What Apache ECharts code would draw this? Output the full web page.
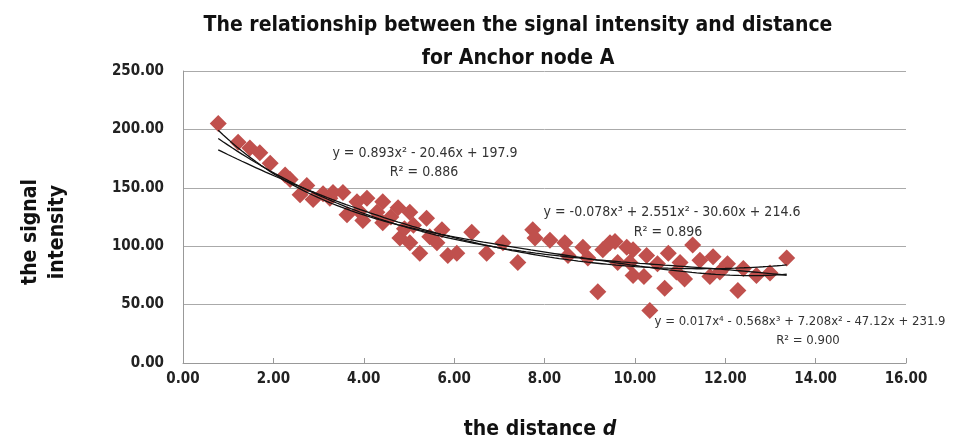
<!DOCTYPE html>
<html><head><meta charset="utf-8">
<script src="https://cdn.jsdelivr.net/npm/echarts@6/dist/echarts.min.js"></script>
<style>html,body{margin:0;padding:0;background:#fff}#c{width:970px;height:444px}</style>
</head><body><div id="c"></div>
<script>
// measured points (distance, signal intensity)
const distance = [0.78,1.22,1.48,1.70,1.93,2.26,2.37,2.59,2.74,2.88,3.10,3.25,3.32,3.54,3.63,3.85,3.90,3.98,4.07,4.29,4.42,4.42,4.60,4.76,4.80,4.90,5.02,5.02,5.10,5.24,5.39,5.46,5.62,5.73,5.86,6.06,6.39,6.72,7.08,7.41,7.74,7.79,8.12,8.45,8.52,8.85,8.96,9.18,9.29,9.45,9.56,9.62,9.82,9.89,9.96,9.96,10.20,10.26,10.33,10.50,10.66,10.74,10.92,11.00,11.10,11.28,11.44,11.66,11.73,11.88,12.05,12.28,12.40,12.69,12.99,13.36];
const intensity = [205,189,184,180,171,161,157,144,152,140,145,141,146,146,127,138,130,122,141,129,138,120,125,133,107,115,129,103,118,94,124,108,103,114,92,94,112,94,103,86,114,107,105,103,92,99,90,61,97,103,104,86,99,86,97,75,74,92,45,85,64,94,78,86,72,101,88,74,91,78,85,62,81,75,77,90];
// trendline coefficients, highest power first (as printed on chart)
const quadCoef = [0.893, -20.46, 197.9];
const cubicCoef = [-0.078, 2.551, -30.60, 214.6];
const quartCoef = [0.017, -0.568, 7.208, -47.12, 231.9];
const yTicks = ['0.00','50.00','100.00','150.00','200.00','250.00'];

function poly(c, x){ let v=0; for(const k of c){ v=v*x+k; } return v; }
function trend(c){
  const lo=Math.min(...distance), hi=Math.max(...distance), out=[];
  const n=120;
  for(let i=0;i<=n;i++){ const x=lo+(hi-lo)*i/n; out.push([x, poly(c,x)]); }
  return out;
}
const pts = distance.map((d,i)=>[d,intensity[i]]);
const FONT = '"Liberation Sans Narrow","DejaVu Sans Condensed","Open Sans",sans-serif';
const chart = echarts.init(document.getElementById('c'));
const lineStyle = {color:'#111', width:1.3};
chart.setOption({
  animation:false,
  backgroundColor:'#fff',
  grid:{left:183, right:64, top:71, bottom:81},
  xAxis:{type:'value', min:0, max:16, interval:2,
    axisLine:{show:true, lineStyle:{color:'#999'}},
    axisTick:{show:true, lineStyle:{color:'#999'}, length:5, inside:true},
    axisLabel:{formatter:v=>v.toFixed(2), color:'#222', fontFamily:FONT, fontSize:15, fontWeight:'bold', margin:9},
    splitLine:{show:false}},
  yAxis:{type:'value', min:0, max:250, interval:50,
    axisLine:{show:true, lineStyle:{color:'#999'}},
    axisTick:{show:false},
    axisLabel:{formatter:v=>yTicks[v/50], color:'#222', fontFamily:FONT, fontSize:15, fontWeight:'bold', margin:19},
    splitLine:{show:true, lineStyle:{color:'#aaa', width:1}}},
  series:[
    {type:'scatter', data:pts, symbol:'diamond', symbolSize:17, itemStyle:{color:'#C0504D', opacity:1}, z:2},
    {type:'line', data:trend(quadCoef), showSymbol:false, lineStyle:lineStyle, z:3},
    {type:'line', data:trend(cubicCoef), showSymbol:false, lineStyle:lineStyle, z:3},
    {type:'line', data:trend(quartCoef), showSymbol:false, lineStyle:lineStyle, z:3}
  ],
  graphic:[
    {type:'text', x:518, y:9, z:10,
      style:{text:'The relationship between the signal intensity and distance\nfor Anchor node A', textAlign:'center', fill:'#111', font:'bold 21px '+FONT, lineHeight:33}},
    {type:'text', x:44, y:232, rotation:Math.PI/2, z:10,
      style:{text:'the signal\nintensity', textAlign:'center', textVerticalAlign:'middle', fill:'#111', font:'bold 21px '+FONT, lineHeight:27}},
    {type:'text', x:540, y:430, z:10,
      style:{rich:{a:{font:'bold 21px '+FONT, fill:'#111'}, b:{font:'italic bold 21px '+FONT, fill:'#111'}}, text:'{a|the distance }{b|d}', textAlign:'center', textVerticalAlign:'middle'}},
    {type:'text', x:425, y:153, z:10, style:{text:'y = 0.893x² - 20.46x + 197.9', textAlign:'center', textVerticalAlign:'middle', fill:'#333', font:'14px '+FONT}},
    {type:'text', x:424, y:172, z:10, style:{text:'R² = 0.886', textAlign:'center', textVerticalAlign:'middle', fill:'#333', font:'14px '+FONT}},
    {type:'text', x:672, y:212, z:10, style:{text:'y = -0.078x³ + 2.551x² - 30.60x + 214.6', textAlign:'center', textVerticalAlign:'middle', fill:'#333', font:'14px '+FONT}},
    {type:'text', x:668, y:232, z:10, style:{text:'R² = 0.896', textAlign:'center', textVerticalAlign:'middle', fill:'#333', font:'14px '+FONT}},
    {type:'text', x:800, y:322, z:10, style:{text:'y = 0.017x⁴ - 0.568x³ + 7.208x² - 47.12x + 231.9', textAlign:'center', textVerticalAlign:'middle', fill:'#333', font:'13px '+FONT}},
    {type:'text', x:808, y:341, z:10, style:{text:'R² = 0.900', textAlign:'center', textVerticalAlign:'middle', fill:'#333', font:'13px '+FONT}}
  ]
});
</script></body></html>
